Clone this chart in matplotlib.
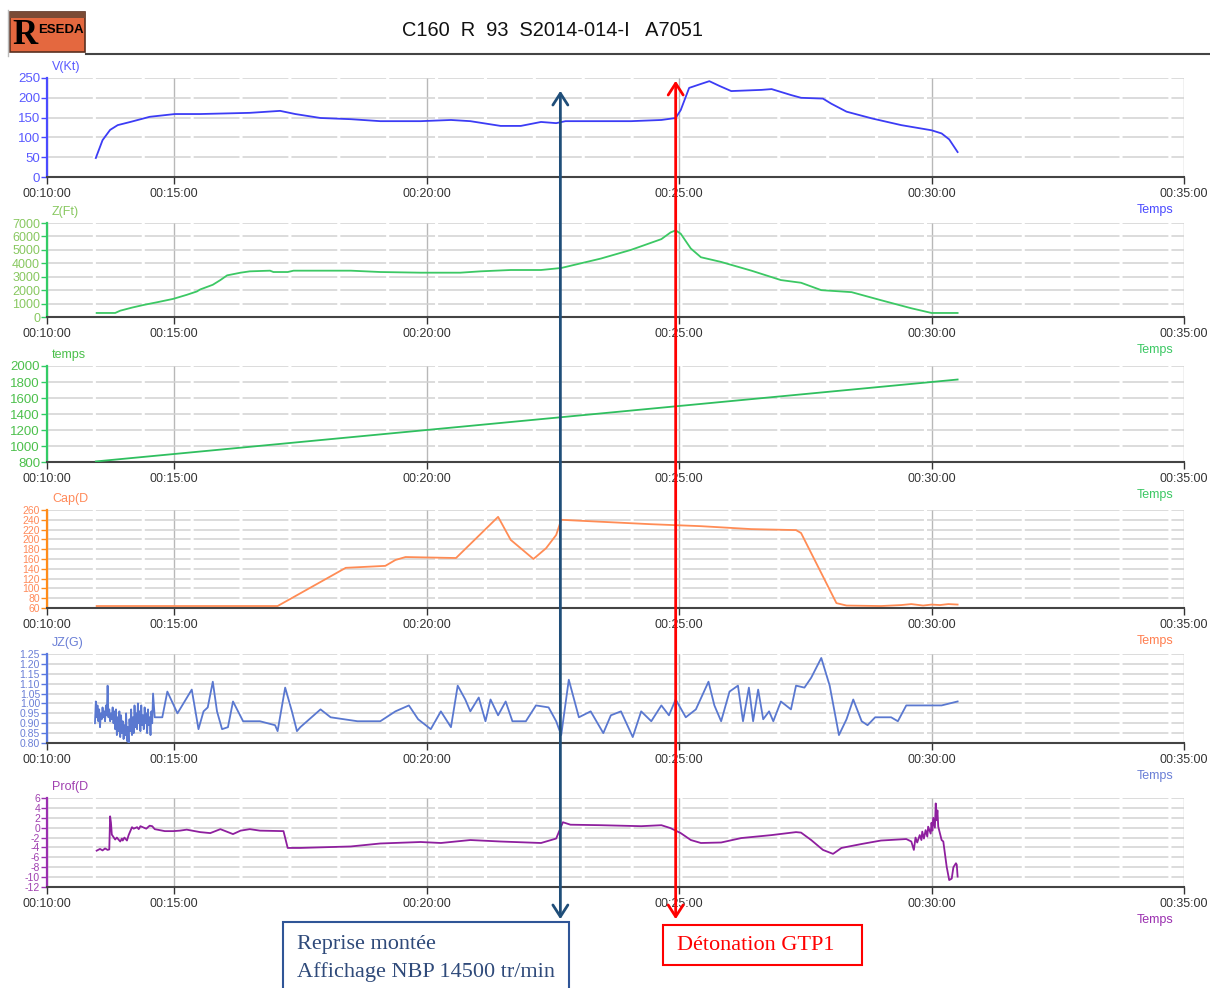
import matplotlib
matplotlib.use('Agg')
import matplotlib.pyplot as plt
from matplotlib.patches import Rectangle, FancyArrowPatch
from matplotlib.lines import Line2D
from matplotlib.transforms import blended_transform_factory

W, H = 1210, 988
plt.rcParams['font.family'] = ['Liberation Sans', 'DejaVu Sans']

title = "C160  R  93  S2014-014-I   A7051"

# time axis (seconds); the left edge is the (broken) 00:10:00 origin
x_min, x_max = 749, 2100
x_ticks = [749, 900, 1200, 1500, 1800, 2100]
x_ticklabels = ["00:10:00", "00:15:00", "00:20:00", "00:25:00", "00:30:00", "00:35:00"]

# V(Kt)
v_t = [807, 815, 824, 833, 848, 871, 901, 931, 990, 1026, 1044, 1074, 1110, 1145, 1193,
       1229, 1252, 1288, 1312, 1336, 1354, 1365, 1407, 1443, 1479, 1496, 1502, 1512, 1526, 1536,
       1548, 1562, 1598, 1610, 1633, 1645, 1671, 1681, 1699, 1729, 1764, 1800, 1812, 1821, 1831]
v_val = [48, 93, 119, 131, 139, 152, 159, 159, 162, 167, 159, 149, 146, 141, 141,
         144, 141, 129, 129, 139, 136, 141, 141, 141, 144, 149, 169, 225, 235, 242,
         230, 217, 220, 222, 207, 200, 198, 185, 165, 148, 131, 118, 110, 95, 63]

# Z(Ft)
z_t = [808, 830, 836, 850, 864, 880, 899, 915, 927, 931, 946, 955, 963, 979, 990,
       1014, 1018, 1035, 1042, 1050, 1110, 1145, 1193, 1240, 1264, 1300, 1336, 1360, 1407, 1443,
       1479, 1490, 1496, 1502, 1514, 1526, 1550, 1586, 1621, 1645, 1669, 1705, 1740, 1776, 1800, 1831]
z_val = [300, 300, 470, 700, 900, 1100, 1350, 1650, 1900, 2050, 2400, 2750, 3100, 3300, 3400,
         3450, 3350, 3350, 3450, 3450, 3450, 3350, 3300, 3300, 3400, 3500, 3500, 3650, 4350, 5000,
         5800, 6300, 6450, 6200, 5100, 4450, 4100, 3450, 2750, 2550, 2000, 1850, 1250, 650, 300, 300]

# temps
temps_t = [807, 900, 1200, 1500, 1800, 1831]
temps_val = [807, 900, 1200, 1500, 1800, 1831]

# Cap(Deg)
cap_t = [808, 1023, 1104, 1151, 1163, 1175, 1235, 1285, 1300, 1327, 1342, 1354, 1360, 1407, 1467,
         1526, 1586, 1639, 1645, 1687, 1699, 1740, 1764, 1776, 1790, 1800, 1810, 1820, 1831]
cap_val = [64, 64, 142, 146, 158, 164, 162, 246, 199, 160, 182, 209, 240, 236, 231,
           227, 221, 219, 213, 70, 65, 64, 66, 68, 65, 67, 66, 68, 67]

# JZ(G)
jz_t = [806, 807, 808, 809, 810, 811, 812, 813, 814, 815, 816, 817, 818, 819, 820,
        821, 822, 823, 824, 825, 826, 827, 828, 829, 830, 831, 832, 833, 834, 835,
        836, 837, 838, 839, 840, 841, 842, 843, 844, 845, 846, 847, 848, 849, 850,
        851, 852, 853, 854, 855, 856, 857, 858, 859, 860, 861, 862, 863, 864, 865,
        866, 867, 868, 869, 870, 871, 872, 873, 874, 875,
        877, 886, 892, 904, 921, 929, 935, 940, 946, 951, 957, 964, 970, 982, 1002,
        1020, 1023, 1032, 1040, 1046, 1050, 1074, 1086, 1118, 1145, 1163, 1179, 1190, 1205, 1217,
        1229, 1237, 1246, 1252, 1262, 1270, 1276, 1285, 1294, 1302, 1318, 1330, 1345, 1354, 1360,
        1369, 1381, 1395, 1410, 1419, 1431, 1445, 1455, 1467, 1479, 1488, 1496, 1508, 1520, 1535,
        1542, 1550, 1560, 1570, 1576, 1583, 1588, 1594, 1600, 1607, 1612, 1621, 1633, 1639, 1649,
        1657, 1669, 1679, 1690, 1699, 1707, 1717, 1724, 1733, 1752, 1760, 1770, 1812, 1831]
jz_val = [0.90, 1.01, 0.93, 0.99, 0.91, 0.97, 0.88, 0.95, 0.92, 0.98, 0.93, 0.96, 0.91, 0.99, 0.94,
          1.09, 0.93, 0.97, 0.91, 0.95, 0.92, 0.98, 0.90, 0.96, 0.87, 0.97, 0.84, 0.93, 0.86, 0.96,
          0.83, 0.94, 0.85, 0.91, 0.82, 0.89, 0.84, 0.95, 0.81, 0.88, 0.80, 0.92, 0.86, 0.97, 0.84,
          0.93, 0.85, 0.99, 0.88, 0.95, 0.87, 1.00, 0.90, 0.96, 0.86, 0.99, 0.89, 0.94, 0.87, 0.98,
          0.90, 0.95, 0.85, 0.97, 0.89, 0.93, 0.84, 0.96, 0.90, 1.05,
          0.93, 0.93, 1.06, 0.95, 1.07, 0.87, 0.96, 0.98, 1.11, 0.96, 0.87, 0.88, 1.01, 0.91, 0.91,
          0.89, 0.86, 1.08, 0.96, 0.86, 0.88, 0.97, 0.93, 0.91, 0.91, 0.96, 0.99, 0.92, 0.87, 0.96,
          0.88, 1.09, 1.02, 0.96, 1.03, 0.91, 1.02, 0.94, 1.01, 0.91, 0.91, 0.99, 0.98, 0.91, 0.84,
          1.12, 0.93, 0.96, 0.85, 0.94, 0.96, 0.83, 0.96, 0.91, 0.99, 0.94, 1.02, 0.93, 0.97, 1.11,
          0.99, 0.91, 1.06, 1.09, 0.91, 1.08, 0.91, 1.07, 0.92, 0.96, 0.91, 1.01, 0.97, 1.09, 1.08,
          1.13, 1.23, 1.09, 0.84, 0.92, 1.02, 0.91, 0.89, 0.93, 0.93, 0.91, 0.99, 0.99, 1.01]

# Prof(Deg)
prof_t = [808, 812, 815, 818, 821, 823, 824, 825, 826, 830, 832, 836, 838, 839, 841,
          844, 846, 850, 852, 856, 858, 860, 864, 867, 871, 874, 877, 880, 889, 899,
          907, 915, 931, 943, 955, 970, 979, 990, 1002, 1030, 1035, 1050, 1110, 1145, 1193,
          1217, 1252, 1288, 1336, 1354, 1362, 1371, 1407, 1455, 1479, 1490, 1502, 1514, 1526, 1550,
          1574, 1610, 1639, 1645, 1657, 1671, 1683, 1693, 1717, 1740, 1770, 1776, 1779, 1781, 1783,
          1786, 1788, 1789, 1791, 1793, 1795, 1796, 1799, 1800, 1801, 1802, 1804, 1805, 1806, 1807,
          1808, 1812, 1814, 1818, 1821, 1824, 1826, 1829, 1830, 1831]
prof_val = [-4.65, -4.3, -4.6, -4.2, -4.5, -4.4, 2.3, 1.0, -1.4, -2.4, -2.0, -2.8, -2.2, -2.6, -2.0,
            -2.6, -1.5, 0.1, -0.2, 0.1, -0.3, 0.3, 0.0, -0.2, 0.4, 0.3, -0.3, -0.4, -0.7, -0.7,
            -0.6, -0.4, -0.9, -1.1, -0.3, -1.3, -0.6, -0.3, -0.6, -0.7, -4.1, -4.1, -3.8, -3.2, -2.9,
            -3.1, -2.5, -2.8, -3.1, -2.2, 1.1, 0.6, 0.5, 0.3, 0.5, -0.1, -1.1, -2.5, -3.1, -3.0,
            -2.1, -1.5, -0.9, -1.0, -2.5, -4.5, -5.3, -4.1, -3.3, -2.6, -2.3, -2.8, -4.5, -2.0, -3.0,
            -1.5, -2.5, -0.8, -2.2, -0.5, -1.8, 0.2, -1.2, 1.0, -0.6, 2.0, 0.0, 4.9, 1.5, 3.5,
            0.2, -2.5, -2.8, -7.9, -10.6, -10.3, -8.0, -7.2, -7.5, -9.9]

# events (seconds)
reprise_t = 1359
detonation_t = 1496
reprise_lines = ["Reprise montée", "Affichage NBP 14500 tr/min"]
detonation_text = "Détonation GTP1"

panels = [
    dict(t=v_t, y=v_val, label="V(Kt)", ylim=(0, 250), yticks=[0, 50, 100, 150, 200, 250],
         fmt="{:.0f}", px=(78, 177), line='#3c3cf5', spine='#4b4bff', tick='#5a5aff',
         temps='#4b4bff', fs=9.5),
    dict(t=z_t, y=z_val, label="Z(Ft)", ylim=(0, 7000), yticks=list(range(0, 7001, 1000)),
         fmt="{:.0f}", px=(223, 317), line='#3cc864', spine='#33cc66', tick='#88c860',
         temps='#3cc864', fs=9),
    dict(t=temps_t, y=temps_val, label="temps", ylim=(800, 2000), yticks=list(range(800, 2001, 200)),
         fmt="{:.0f}", px=(366, 462), line='#2fbf5f', spine='#33cc66', tick='#4cc04c',
         temps='#3cc864', fs=9.5),
    dict(t=cap_t, y=cap_val, label="Cap(D", ylim=(60, 260), yticks=list(range(60, 261, 20)),
         fmt="{:.0f}", px=(510, 608), line='#ff8c55', spine='#ff8c1a', tick='#ff8a5a',
         temps='#ff7f50', fs=7.5),
    dict(t=jz_t, y=jz_val, label="JZ(G)", ylim=(0.80, 1.25),
         yticks=[0.80, 0.85, 0.90, 0.95, 1.00, 1.05, 1.10, 1.15, 1.20, 1.25],
         fmt="{:.2f}", px=(654, 743), line='#5a78d0', spine='#5a7ae0', tick='#6a7fd6',
         temps='#6a7fd6', fs=7.5),
    dict(t=prof_t, y=prof_val, label="Prof(D", ylim=(-12, 6), yticks=list(range(-12, 7, 2)),
         fmt="{:.0f}", px=(798, 887), line='#8e1f9e', spine='#9b30b0', tick='#a040b0',
         temps='#9b30b0', fs=7.5),
]

fig = plt.figure(figsize=(W / 100, H / 100), dpi=100)
fig.patch.set_facecolor('white')

def fy(py):
    return 1 - py / H

axes = []
for p in panels:
    top, bot = p['px']
    ax = fig.add_axes([47 / W, fy(bot), (1184 - 47) / W, (bot - top) / H])
    ax.patch.set_alpha(0)
    ax.plot(p['t'], p['y'], color=p['line'], lw=1.3, zorder=3)
    ax.set_xlim(x_min, x_max)
    ax.set_ylim(*p['ylim'])
    ax.set_xticks(x_ticks)
    ax.set_xticklabels(x_ticklabels, fontsize=9, color='#333333')
    ax.set_yticks(p['yticks'])
    ax.set_yticklabels([p['fmt'].format(v) for v in p['yticks']], fontsize=p['fs'], color=p['tick'])
    ax.tick_params(axis='y', direction='out', length=4, width=1, color=p['spine'], pad=1)
    ax.tick_params(axis='x', direction='out', length=5, width=1, color='#333333', pad=3)
    for s in ['top', 'right']:
        ax.spines[s].set_visible(False)
    ax.spines['left'].set_color(p['spine'])
    ax.spines['left'].set_linewidth(1.6)
    ax.spines['bottom'].set_color('#444444')
    ax.spines['bottom'].set_linewidth(1.5)
    ax.grid(axis='y', color='#d2d2d2', lw=1.1, linestyle=(0, (30, 2)))
    ax.grid(axis='x', color='#b8b8b8', lw=1.0)
    ax.set_axisbelow(True)
    fig.text(52 / W, fy(top - 11), p['label'], color=p['tick'], fontsize=9, ha='left', va='center')
    fig.text(1155 / W, fy(bot + 33), "Temps", color=p['temps'], fontsize=9, ha='center', va='center')
    axes.append(ax)

# title and rule
fig.text(553 / W, fy(31), title, fontsize=14.4, color='#111111', ha='center', va='center')
fig.add_artist(Line2D([86 / W, 1.0], [fy(54), fy(54)], color='#444444', lw=1.5))

# logo
fig.add_artist(Line2D([8 / W, 8 / W], [fy(10), fy(56)], color='#bbbbbb', lw=1))
fig.add_artist(Rectangle((10 / W, fy(52)), 75 / W, 40 / H, fc='#e4683f', ec='#5a3020', lw=1.2))
fig.add_artist(Rectangle((10 / W, fy(18)), 75 / W, 6 / H, fc='#7a4a35', ec='none'))
fig.text(25 / W, fy(35), "R", fontsize=25, fontweight='bold', family=['Liberation Serif'],
         color='black', ha='center', va='center')
fig.text(61 / W, fy(30), "ESEDA", fontsize=9.5, fontweight='bold',
         family=['Liberation Sans'], color='black', ha='center', va='center')

# event arrows
blend = blended_transform_factory(axes[0].transData, fig.transFigure)
fig.add_artist(FancyArrowPatch((reprise_t, fy(922)), (reprise_t, fy(88)), transform=blend,
                               arrowstyle='<->,head_length=0.7,head_width=0.45', mutation_scale=12,
                               color='#1f4e79', lw=2))
fig.add_artist(FancyArrowPatch((detonation_t, fy(922)), (detonation_t, fy(78)), transform=blend,
                               arrowstyle='<->,head_length=0.7,head_width=0.45', mutation_scale=12,
                               color='#ff0000', lw=2))

# annotation boxes
fig.add_artist(Rectangle((283 / W, fy(992)), 286 / W, 70 / H, fc='white', ec='#2f5597', lw=1.5))
fig.text(297 / W, fy(944), reprise_lines[0], fontsize=16, family=['Liberation Serif'],
         color='#2f4a7a', ha='left', va='center')
fig.text(297 / W, fy(972), reprise_lines[1], fontsize=16, family=['Liberation Serif'],
         color='#2f4a7a', ha='left', va='center')
fig.add_artist(Rectangle((663 / W, fy(965)), 199 / W, 40 / H, fc='white', ec='#ff0000', lw=1.5))
fig.text(677 / W, fy(945), detonation_text, fontsize=16, family=['Liberation Serif'],
         color='#ff0000', ha='left', va='center')

fig.savefig('out.png', dpi=100)
